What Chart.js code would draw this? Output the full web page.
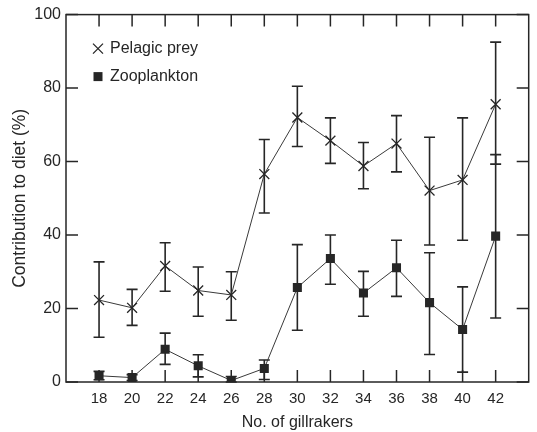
<!DOCTYPE html>
<html>
<head>
<meta charset="utf-8">
<script src="https://cdn.jsdelivr.net/npm/chart.js@4/dist/chart.umd.min.js"></script>
<style>
  html, body { margin: 0; padding: 0; background: #fff; }
  #wrap { width: 537px; height: 432px; }
</style>
</head>
<body>
<div id="wrap"><canvas id="dietChart" width="537" height="432"></canvas></div>
<script>
var gillrakers = [18, 20, 22, 24, 26, 28, 30, 32, 34, 36, 38, 40, 42];
var pelagicMean = [22.3, 20.2, 31.6, 24.9, 23.7, 56.6, 72.0, 65.7, 58.8, 64.9, 52.1, 55.0, 75.6];
var pelagicHigh = [32.7, 25.2, 37.9, 31.3, 30.0, 66.0, 80.5, 71.9, 65.2, 72.5, 66.6, 71.9, 92.5];
var pelagicLow = [12.2, 15.4, 24.7, 17.9, 16.8, 46.0, 64.1, 59.5, 52.6, 57.2, 37.3, 38.6, 59.3];
var zooMean = [1.7, 1.2, 8.9, 4.4, 0.4, 3.7, 25.7, 33.6, 24.2, 31.1, 21.6, 14.3, 39.7];
var zooHigh = [2.9, 2.0, 13.3, 7.4, 1.5, 6.0, 37.4, 40.0, 30.1, 38.6, 35.2, 25.9, 61.9];
var zooLow = [0.6, 0.4, 4.8, 1.4, 0.0, 0.7, 14.1, 26.6, 17.9, 23.3, 7.5, 2.7, 17.4];
var yTicks = [0, 20, 40, 60, 80, 100];

var ink = '#262626';
var fontFam = '"Liberation Sans", Arial, sans-serif';

function pts(ys) {
  return gillrakers.map(function(g, i) { return { x: g, y: ys[i] }; });
}

var errorBars = {
  id: 'errorBars',
  beforeDatasetsDraw: function(chart) {
    var ctx = chart.ctx, xs = chart.scales.x, ys = chart.scales.y;
    var sets = [[pelagicLow, pelagicHigh], [zooLow, zooHigh]];
    ctx.save();
    ctx.strokeStyle = ink;
    ctx.lineWidth = 1.6;
    sets.forEach(function(s) {
      gillrakers.forEach(function(g, i) {
        var px = xs.getPixelForValue(g);
        var lo = ys.getPixelForValue(s[0][i]);
        var hi = ys.getPixelForValue(s[1][i]);
        ctx.beginPath();
        ctx.moveTo(px, lo); ctx.lineTo(px, hi);
        ctx.moveTo(px - 5.5, lo); ctx.lineTo(px + 5.5, lo);
        ctx.moveTo(px - 5.5, hi); ctx.lineTo(px + 5.5, hi);
        ctx.stroke();
      });
    });
    ctx.restore();
  }
};

var frame = {
  id: 'frame',
  afterDraw: function(chart) {
    var ctx = chart.ctx, a = chart.chartArea, xs = chart.scales.x, ys = chart.scales.y;
    ctx.save();
    ctx.strokeStyle = ink;
    ctx.lineWidth = 1.5;
    ctx.strokeRect(a.left, a.top, a.right - a.left, a.bottom - a.top);
    ctx.beginPath();
    gillrakers.forEach(function(g) {
      var px = xs.getPixelForValue(g);
      ctx.moveTo(px, a.bottom); ctx.lineTo(px, a.bottom - 12);
      ctx.moveTo(px, a.top); ctx.lineTo(px, a.top + 12);
    });
    yTicks.forEach(function(v) {
      var py = ys.getPixelForValue(v);
      ctx.moveTo(a.left, py); ctx.lineTo(a.left + 12, py);
      ctx.moveTo(a.right, py); ctx.lineTo(a.right - 12, py);
    });
    ctx.stroke();

    // legend
    var lx = a.left + 32, ly1 = a.top + 34, ly2 = a.top + 62;
    ctx.lineWidth = 1.3;
    ctx.beginPath();
    ctx.moveTo(lx - 5, ly1 - 5); ctx.lineTo(lx + 5, ly1 + 5);
    ctx.moveTo(lx - 5, ly1 + 5); ctx.lineTo(lx + 5, ly1 - 5);
    ctx.stroke();
    ctx.fillStyle = ink;
    ctx.fillRect(lx - 4.5, ly2 - 4.5, 9, 9);
    ctx.font = '16px ' + fontFam;
    ctx.textBaseline = 'middle';
    ctx.textAlign = 'left';
    ctx.fillText('Pelagic prey', lx + 12, ly1);
    ctx.fillText('Zooplankton', lx + 12, ly2);
    ctx.restore();
  }
};

new Chart(document.getElementById('dietChart'), {
  type: 'line',
  data: {
    datasets: [
      {
        label: 'Pelagic prey',
        data: pts(pelagicMean),
        borderColor: '#3a3a3a',
        borderWidth: 1,
        pointStyle: 'crossRot',
        pointRadius: 7,
        pointBorderWidth: 1.3,
        pointBorderColor: ink,
        pointBackgroundColor: ink,
        tension: 0
      },
      {
        label: 'Zooplankton',
        data: pts(zooMean),
        borderColor: '#3a3a3a',
        borderWidth: 1,
        pointStyle: 'rect',
        pointRadius: 6.4,
        pointBorderWidth: 0,
        pointBackgroundColor: ink,
        tension: 0
      }
    ]
  },
  options: {
    responsive: false,
    animation: false,
    events: [],
    layout: { padding: { top: 12, right: 6, left: 0, bottom: 0 } },
    plugins: { legend: { display: false }, tooltip: { enabled: false } },
    scales: {
      x: {
        type: 'linear',
        min: 16,
        max: 44,
        afterFit: function(s) { s.height = 50; },
        afterBuildTicks: function(s) { s.ticks = gillrakers.map(function(g) { return { value: g }; }); },
        grid: { display: false, drawTicks: false },
        border: { display: false },
        ticks: { color: ink, padding: 8, font: { family: fontFam, size: 15 }, maxRotation: 0, autoSkip: false },
        title: { display: true, text: 'No. of gillrakers', color: ink, font: { family: fontFam, size: 16 }, padding: { top: 2, bottom: 0 } }
      },
      y: {
        min: 0,
        max: 100,
        afterFit: function(s) { s.width = 66; },
        afterBuildTicks: function(s) { s.ticks = yTicks.map(function(v) { return { value: v }; }); },
        grid: { display: false, drawTicks: false },
        border: { display: false },
        ticks: { color: ink, padding: 5, font: { family: fontFam, size: 16 } },
        title: { display: true, text: 'Contribution to diet (%)', color: ink, font: { family: fontFam, size: 17.5 }, padding: { top: 10, bottom: 0 } }
      }
    }
  },
  plugins: [errorBars, frame]
});
</script>
</body>
</html>
